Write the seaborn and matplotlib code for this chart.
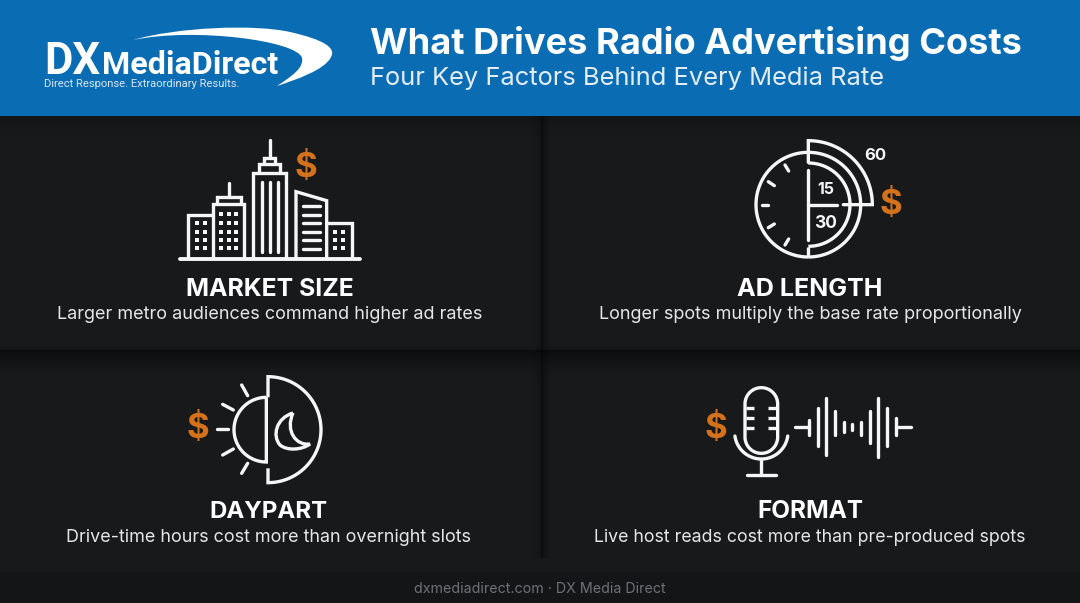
import numpy as np
import matplotlib
matplotlib.use("Agg")
import matplotlib.pyplot as plt
import seaborn as sns
from matplotlib.patches import PathPatch, Rectangle
from matplotlib.path import Path

factors = ["MARKET SIZE", "AD LENGTH", "DAYPART", "FORMAT"]
details = ["Larger metro audiences command higher ad rates",
           "Longer spots multiply the base rate proportionally",
           "Drive-time hours cost more than overnight slots",
           "Live host reads cost more than pre-produced spots"]
title = "What Drives Radio Advertising Costs"
subtitle = "Four Key Factors Behind Every Media Rate"
footer = "dxmediadirect.com · DX Media Direct"
spot_lengths = ["15", "30", "60"]
# waveform bars
wave_tops = [135, 100, 68, 108, 140, 148, 140, 108, 68, 100, 128]
wave_bottoms = [180, 212, 240, 180, 170, 165, 180, 205, 245, 212, 180]

WHITE = "#f6f6f6"
ORANGE = "#d4721c"
BLUE = "#0a6cb2"
PANEL = "#18191b"
LW = 2.4

sns.set_theme(style="dark", rc={"axes.facecolor": PANEL, "figure.facecolor": PANEL})
plt.rcParams["font.family"] = ["Inter", "DejaVu Sans"]

fig = plt.figure(figsize=(10.8, 6.03), dpi=100)
ax = fig.add_axes([0, 0, 1, 1])


def fit_text(x, y, s, width, size=20, ha="center", **kw):
    t = ax.text(x, y, s, fontsize=size, ha=ha, va="baseline", **kw)
    w = t.get_window_extent(fig.canvas.get_renderer()).width
    t.set_fontsize(size * width / w)
    return t


def stroke(origin, pts, lw=LW, cap="round", color=WHITE):
    xs = [origin[0] + p[0] / 3 for p in pts]
    ys = [origin[1] + p[1] / 3 for p in pts]
    sns.lineplot(x=xs, y=ys, sort=False, estimator=None, ax=ax, color=color, linewidth=lw,
                 solid_capstyle=cap, solid_joinstyle="miter", zorder=5)


def windows(origin, cols, rows):
    xs = [origin[0] + cx / 3 for cx in cols for cy in rows]
    ys = [origin[1] + cy / 3 for cx in cols for cy in rows]
    sns.scatterplot(x=xs, y=ys, ax=ax, marker="s", s=7, color=WHITE, linewidth=0, zorder=5)


def arc(cx, cy, r, a0, a1):
    a = np.radians(np.linspace(a0, a1, 60))
    return list(zip(cx + r * np.cos(a), cy + r * np.sin(a)))


def shade(extent, alpha):
    rgba = np.zeros(alpha.shape + (4,))
    rgba[..., 3] = alpha
    ax.imshow(rgba, extent=extent, aspect="auto", zorder=2, interpolation="bilinear")


def dollar(x, y, size=25):
    ax.text(x, y, "$", color=ORANGE, fontsize=size, fontweight="bold", ha="center", va="center", zorder=6)


# panel shadows
fade = np.linspace(0, 1, 40)
shade((541, 552, 558, 116), (0.5 * (1 - fade) ** 2)[None, :])
shade((530, 541, 558, 116), (0.2 * fade ** 2)[None, :])
shade((0, 1080, 380, 350), (0.5 * (1 - fade) ** 2)[:, None])
shade((0, 1080, 350, 344), (0.1 * fade ** 2)[:, None])
shade((0, 1080, 140, 116), (0.2 * (1 - fade) ** 2)[:, None])

ax.add_patch(Rectangle((0, 0), 1080, 116, color=BLUE, zorder=3, lw=0))
ax.add_patch(Rectangle((0, 572), 1080, 31, color="#141517", zorder=3, lw=0))

# logo swoosh
M, C = Path.MOVETO, Path.CURVE4
swoosh = Path([(133, 40), (178, 27), (255, 24), (290, 32), (325, 40), (336, 48), (331, 57),
               (325, 70), (295, 80), (277, 86), (292, 76), (304, 68), (302, 58),
               (298, 41), (195, 27), (133, 40)],
              [M] + [C] * 15)
ax.add_patch(PathPatch(swoosh, fc="white", ec="none", zorder=4))
fit_text(44, 74, "DX", 56, size=40, ha="left", color="white", fontweight="bold", family="Roboto", zorder=5)
fit_text(102, 74, "MediaDirect", 176, size=30, ha="left", color="white", fontweight="bold", family="Roboto", zorder=5)
fit_text(44, 87, "Direct Response. Extraordinary Results.", 196, size=10, ha="left", color="#d8e6f2",
         family="Roboto", zorder=5)

# header
fit_text(370, 54, title, 652, size=30, ha="left", color="white", fontweight="bold", zorder=5)
fit_text(370, 85, subtitle, 515, size=20, ha="left", color="#e4ecf4", zorder=5)

# captions
name_y = [296, 296, 518, 518]
detail_y = [319, 319, 542, 542]
centers = [270, 810, 268, 810]
name_w = [168, 146, 118, 106]
detail_w = [425, 422, 404, 430]
for i in range(4):
    fit_text(centers[i], name_y[i], factors[i], name_w[i], size=20, color="white", fontweight="bold", zorder=5)
    fit_text(centers[i], detail_y[i], details[i], detail_w[i], size=13, color="#e6e6e6", zorder=5)
fit_text(540, 593, footer, 253, size=10, color="#6f7176", zorder=5)

# city icon
o = (170, 130)
stroke(o, [(30, 388), (570, 388)], lw=2.8)
stroke(o, [(55, 388), (55, 255), (130, 255)], cap="butt")
stroke(o, [(130, 388), (130, 222), (222, 222), (222, 388)], cap="butt")
stroke(o, [(142, 222), (142, 200), (212, 200), (212, 222)], cap="butt")
stroke(o, [(176, 158), (176, 200)])
stroke(o, [(250, 388), (250, 130), (348, 130), (348, 388)], cap="butt")
stroke(o, [(268, 130), (268, 103), (330, 103), (330, 130)], cap="butt")
stroke(o, [(282, 103), (282, 85), (315, 85), (315, 103)], cap="butt")
stroke(o, [(299, 30), (299, 85)])
for x in (275, 299, 323):
    stroke(o, [(x, 155), (x, 365)])
stroke(o, [(378, 388), (378, 185), (470, 212), (470, 388)], cap="butt")
for y in (228, 254, 280, 306, 331, 356):
    stroke(o, [(398, y), (450, y)])
stroke(o, [(470, 280), (547, 280), (547, 388)], cap="butt")
windows(o, (80, 105), (280, 305, 330, 355))
windows(o, (152, 176, 198), (252, 280, 305, 330, 355))
windows(o, (495, 520), (305, 330, 355))
dollar(306, 168)

# clock icon
o = (740, 130)
c = (205, 224)
stroke(o, arc(*c, 157, 90, 270), cap="butt")
stroke(o, arc(*c, 157, -90, 90), cap="butt")
stroke(o, arc(*c, 125, -90, 90), cap="butt")
stroke(o, [(205, 97), (205, 32)] + arc(*c, 192, -90, 0) + [(310, 224)], cap="round")
stroke(o, [(205, 120), (205, 330)])
stroke(o, [(205, 224), (290, 224)])
stroke(o, [(205, 350), (205, 381)], cap="butt")
for p, q in (((65, 225), (85, 225)), ((85, 155), (103, 167)), ((135, 105), (146, 123)),
             ((85, 293), (103, 282)), ((135, 345), (146, 327))):
    stroke(o, [p, q])
label_xy = [(826, 189), (826, 223), (875, 156)]
label_size = [11.5, 12.5, 12]
for s, (x, y), fs in zip(spot_lengths, label_xy, label_size):
    ax.text(x, y, s, color=WHITE, fontsize=fs, fontweight="bold", ha="center", va="center", zorder=6)
dollar(891, 205)

# daypart icon
o = (175, 365)
stroke(o, [(274, 97)] + arc(274, 194, 97, -90, -270) + [(274, 97)], cap="butt")
stroke(o, [(279, 97), (279, 35)] + arc(279, 194, 159, -90, 90) + [(279, 310)], cap="butt")
for p, q in (((125, 192), (160, 192)), ((143, 118), (175, 135)), ((200, 60), (218, 92)),
             ((143, 270), (175, 252)), ((200, 325), (218, 295))):
    stroke(o, [p, q])
moon = Path([(293, 413), (276, 418), (272, 436), (280, 445), (287, 451), (302, 450), (310, 444),
             (296, 446), (285, 431), (293, 413)],
            [M] + [C] * 9)
ax.add_patch(PathPatch(moon, fc="none", ec=WHITE, lw=LW, zorder=5))
dollar(198, 429)

# mic icon
o = (695, 375)
stroke(o, arc(199, 87, 49, 180, 360) + arc(199, 186, 49, 0, 180) + [(150, 87)], cap="butt")
for y in (100, 130, 160):
    stroke(o, [(152, y), (178, y)], cap="butt")
    stroke(o, [(220, y), (246, y)], cap="butt")
stroke(o, arc(199, 172, 80, 172, 8))
stroke(o, [(199, 252), (199, 300)], cap="butt")
stroke(o, [(155, 300), (243, 300)])
wave_x = [342 + 26 * i for i in range(len(wave_tops))]
stroke(o, [(300, 155), (342, 155)])
stroke(o, [(602, 155), (648, 155)])
for x, top, bottom in zip(wave_x, wave_tops, wave_bottoms):
    stroke(o, [(x, top), (x, bottom)])
dollar(716, 429)

ax.set_xlim(0, 1080)
ax.set_ylim(603, 0)
ax.set_axis_off()
sns.despine(ax=ax, left=True, bottom=True)
fig.savefig("out.png", dpi=100, facecolor=PANEL)
